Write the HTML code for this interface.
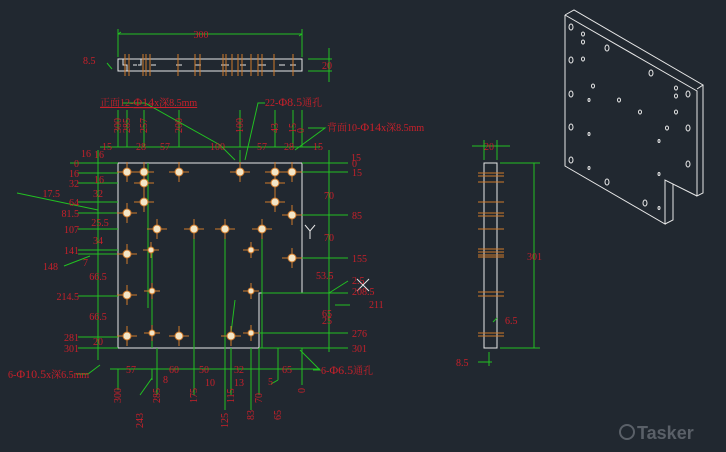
<!DOCTYPE html>
<html><head><meta charset="utf-8"><style>
html,body{margin:0;padding:0;background:#212830;}
svg{display:block}
text{font-family:"Liberation Serif","Noto Serif CJK SC",serif;font-size:10px;fill:#c8202a;}
.g{stroke:#22c022;stroke-width:1;fill:none}
.w{stroke:#e8e8e8;stroke-width:1;fill:none}
.o{stroke:#d07a2a;stroke-width:1;fill:none}
</style></head><body>
<svg width="726" height="452" viewBox="0 0 726 452" xmlns="http://www.w3.org/2000/svg">
<rect width="726" height="452" fill="#212830"/>
<!-- top view -->
<g class="g"><path d="M118 34H302M118 29V57M302 29V57M118 34l3-2M302 34l-3 2M308 59H332M308 71H332M329 48V82M107 63L112 69"/></g>
<rect x="118" y="59" width="184" height="12" class="w"/>
<g class="w"><path d="M123 59v6h4v6M133 65h4M141 59v6h-3M151 65h5M176 65h6M195 65h6M221 65h8M240 65h6M258 65h8M279 65h6M290 65h6"/></g>
<g class="o"><path d="M125 54v22M129 54v22M143 54v22M146 54v22M150 54v22M178 54v22M195 54v22M200 54v22M223 54v22M226 54v22M232 54v22M238 54v22M242 54v22M251 54v22M258 54v22M262 54v22M274 54v22M293 54v22"/></g>
<text x="201" y="38" text-anchor="middle">300</text><text x="322" y="69">20</text><text x="83" y="64">8.5</text>
<!-- main plate -->
<path class="w" d="M118 163H302V293H259V348H118Z"/>
<g class="g">
<path d="M98 150V360M118 163H70M118 173H78M118 183H78M118 202H78M118 213H78M118 229H78M118 250H78M118 254H78M118 296H78M118 337H78M118 348H78"/>
<path d="M329 150V352M302 163H348M302 172H348M302 215H348M302 258H348M262 293H348M259 333H348M259 348H348"/>
<path d="M100 147H320M118 147V110M127 147V110M144 147V110M179 147V110M240 147V110M275 147V110M293 147V110M302 147V110M240 163V150"/>
<path d="M110 369H320M118 369V390M152 369V380M157 348V395M194 348V395M225 348V410M231 348V395M251 348V410M259 348V395M278 348V380M302 348V385M140 395L152 378M271 384L278 380"/>
<path d="M122 103H145L220 145L235 160M245 160L258 103H265M308 128H325L295 150M17 193L98 210M64 266L90 256M76 374H88L100 365M313 370H320L300 350M335 305H350M329 293L348 281"/>
<path d="M148 308V163M194 229V348M225 229V348M262 229V348M152 250V348M231 333L235 300"/>
</g>
<g class="o" id="h">
<path d="M117 172h20M127 162v20M134 172h20M144 162v20M169 172h20M179 162v20M230 172h20M240 162v20M265 172h20M275 162v20M282 172h20M292 162v20M134 183h20M144 173v20M265 183h20M275 173v20M134 202h20M144 192v20M265 202h20M275 192v20M117 213h20M127 203v20M282 215h20M292 205v20M147 229h20M157 219v20M184 229h20M194 219v20M215 229h20M225 219v20M252 229h20M262 219v20M117 254h20M127 244v20M143 250h16M151 242v16M243 250h16M251 242v16M282 258h20M292 248v20M117 295h20M127 285v20M144 291h16M152 283v16M243 291h16M251 283v16M117 336h20M127 326v20M144 333h16M152 325v16M169 336h20M179 326v20M221 336h20M231 326v20M243 333h16M251 325v16"/>
</g>
<g fill="#f3e6c8" stroke="#d07a2a">
<circle cx="127" cy="172" r="4"/><circle cx="144" cy="172" r="4"/><circle cx="179" cy="172" r="4"/><circle cx="240" cy="172" r="4"/><circle cx="275" cy="172" r="4"/><circle cx="292" cy="172" r="4"/><circle cx="144" cy="183" r="4"/><circle cx="275" cy="183" r="4"/><circle cx="144" cy="202" r="4"/><circle cx="275" cy="202" r="4"/><circle cx="127" cy="213" r="4"/><circle cx="292" cy="215" r="4"/><circle cx="157" cy="229" r="4"/><circle cx="194" cy="229" r="4"/><circle cx="225" cy="229" r="4"/><circle cx="262" cy="229" r="4"/><circle cx="127" cy="254" r="4"/><circle cx="151" cy="250" r="3"/><circle cx="251" cy="250" r="3"/><circle cx="292" cy="258" r="4"/><circle cx="127" cy="295" r="4"/><circle cx="152" cy="291" r="3"/><circle cx="251" cy="291" r="3"/><circle cx="127" cy="336" r="4"/><circle cx="152" cy="333" r="3"/><circle cx="179" cy="336" r="4"/><circle cx="231" cy="336" r="4"/><circle cx="251" cy="333" r="3"/>
</g>
<path class="w" d="M305 225l5 6 5-6M310 231v8M357 279l12 12M369 279l-12 12"/>
<!-- left labels -->
<g text-anchor="end"><text x="79" y="167">0</text><text x="79" y="177">16</text><text x="79" y="187">32</text><text x="60" y="197">17.5</text><text x="79" y="206">64</text><text x="79" y="217">81.5</text><text x="79" y="233">107</text><text x="79" y="254">141</text><text x="58" y="270">148</text><text x="88" y="266">7</text><text x="79" y="300">214.5</text><text x="79" y="341">281</text><text x="79" y="352">301</text><text x="91" y="157">16</text></g>
<g text-anchor="middle"><text x="99" y="183">16</text><text x="98" y="197">32</text><text x="100" y="226">25.5</text><text x="98" y="244">34</text><text x="98" y="280">66.5</text><text x="98" y="320">66.5</text><text x="98" y="345">20</text></g>
<!-- right labels -->
<text x="351" y="161">15</text><text x="352" y="167">0</text><text x="352" y="176">15</text><text x="324" y="199">70</text><text x="352" y="219">85</text><text x="324" y="241">70</text><text x="352" y="262">155</text><text x="316" y="279">53.5</text><text x="352" y="284">2.5</text><text x="352" y="295">208.5</text><text x="369" y="308">211</text><text x="322" y="317">65</text><text x="322" y="324">25</text><text x="352" y="337">276</text><text x="352" y="352">301</text>
<!-- top labels -->
<text x="94" y="158">16</text><text x="102" y="150">15</text><text x="136" y="150">28</text><text x="160" y="150">57</text><text x="210" y="150">100</text><text x="257" y="150">57</text><text x="284" y="150">28</text><text x="313" y="150">15</text>
<g><text transform="translate(121,133) rotate(-90)">300</text><text transform="translate(130,133) rotate(-90)">285</text><text transform="translate(147,133) rotate(-90)">257</text><text transform="translate(182,133) rotate(-90)">200</text><text transform="translate(243,133) rotate(-90)">100</text><text transform="translate(278,133) rotate(-90)">43</text><text transform="translate(296,133) rotate(-90)">15</text><text transform="translate(304,133) rotate(-90)">0</text></g>
<text x="100" y="106" text-decoration="underline">正面12-<tspan font-size="12">Φ14</tspan>x深8.5mm</text>
<text x="265" y="106">22-<tspan font-size="12">Φ8.5</tspan>通孔</text>
<text x="327" y="131">背面10-<tspan font-size="12">Φ14</tspan>x深8.5mm</text>
<!-- bottom labels -->
<text x="126" y="373">57</text><text x="169" y="373">60</text><text x="199" y="373">50</text><text x="234" y="373">32</text><text x="282" y="373">65</text>
<text x="163" y="383">8</text><text x="205" y="386">10</text><text x="234" y="386">13</text><text x="268" y="385">5</text>
<text x="8" y="378">6-<tspan font-size="12">Φ10.5</tspan>x深6.5mm</text><text x="321" y="374">6-<tspan font-size="12">Φ6.5</tspan>通孔</text>
<g><text transform="translate(121,403) rotate(-90)">300</text><text transform="translate(160,403) rotate(-90)">285</text><text transform="translate(197,403) rotate(-90)">175</text><text transform="translate(234,403) rotate(-90)">115</text><text transform="translate(262,403) rotate(-90)">70</text><text transform="translate(305,393) rotate(-90)">0</text><text transform="translate(143,428) rotate(-90)">243</text><text transform="translate(228,428) rotate(-90)">125</text><text transform="translate(254,420) rotate(-90)">83</text><text transform="translate(281,420) rotate(-90)">65</text></g>
<!-- side view -->
<rect x="484" y="163" width="13" height="185" class="w"/>
<g class="g"><path d="M472 146H510M484 140V160M497 140V160M500 163H540M500 348H540M534 163V348M478 362H492M489 352V366M493 322L497 318"/></g>
<g class="o"><path d="M478 173h26M478 176h26M478 182h26M478 202h26M478 213h26M478 216h26M478 229h26M478 249h26M478 252h26M478 255h26M478 257h26M478 292h26M478 296h26M478 333h26M478 336h26"/></g>
<text x="484" y="150">20</text><text x="527" y="260">301</text><text x="505" y="324">6.5</text><text x="456" y="366">8.5</text>
<!-- 3D view -->
<g class="w">
<path d="M565 15L574 10L703 85L697 89M565 15L697 91V196L703 193V85M565 15V166L665 224V180L697 196M665 224L673 220V184"/>
</g>
<g class="w" stroke-width="1">
<ellipse cx="571" cy="27" rx="2" ry="3"/><ellipse cx="583" cy="34" rx="1.5" ry="2"/><ellipse cx="583" cy="42" rx="1.5" ry="2"/><ellipse cx="607" cy="48" rx="2" ry="3"/><ellipse cx="571" cy="60" rx="2" ry="3"/><ellipse cx="583" cy="59" rx="1.5" ry="2"/><ellipse cx="651" cy="73" rx="2" ry="3"/><ellipse cx="593" cy="86" rx="1.5" ry="2"/><ellipse cx="676" cy="88" rx="1.5" ry="2"/><ellipse cx="676" cy="96" rx="1.5" ry="2"/><ellipse cx="688" cy="94" rx="2" ry="3"/><ellipse cx="571" cy="94" rx="2" ry="3"/><ellipse cx="589" cy="100" rx="1" ry="1.5"/><ellipse cx="619" cy="100" rx="1.5" ry="2"/><ellipse cx="640" cy="112" rx="1.5" ry="2"/><ellipse cx="676" cy="112" rx="1.5" ry="2"/><ellipse cx="571" cy="127" rx="2" ry="3"/><ellipse cx="667" cy="128" rx="1.5" ry="2"/><ellipse cx="688" cy="128" rx="2" ry="3"/><ellipse cx="589" cy="134" rx="1" ry="1.5"/><ellipse cx="659" cy="141" rx="1" ry="1.5"/><ellipse cx="571" cy="160" rx="2" ry="3"/><ellipse cx="688" cy="164" rx="2" ry="3"/><ellipse cx="589" cy="168" rx="1" ry="1.5"/><ellipse cx="659" cy="174" rx="1" ry="1.5"/><ellipse cx="607" cy="182" rx="2" ry="3"/><ellipse cx="645" cy="203" rx="2" ry="3"/><ellipse cx="659" cy="208" rx="1" ry="1.5"/>
</g>
<!-- watermark -->
<circle cx="627" cy="432" r="7" fill="none" stroke="#5a6068" stroke-width="2"/>
<text x="637" y="439" style="font-family:'Liberation Sans',sans-serif;font-size:18px;fill:#5a6068;font-weight:bold">Tasker</text>
</svg>
</body></html>
